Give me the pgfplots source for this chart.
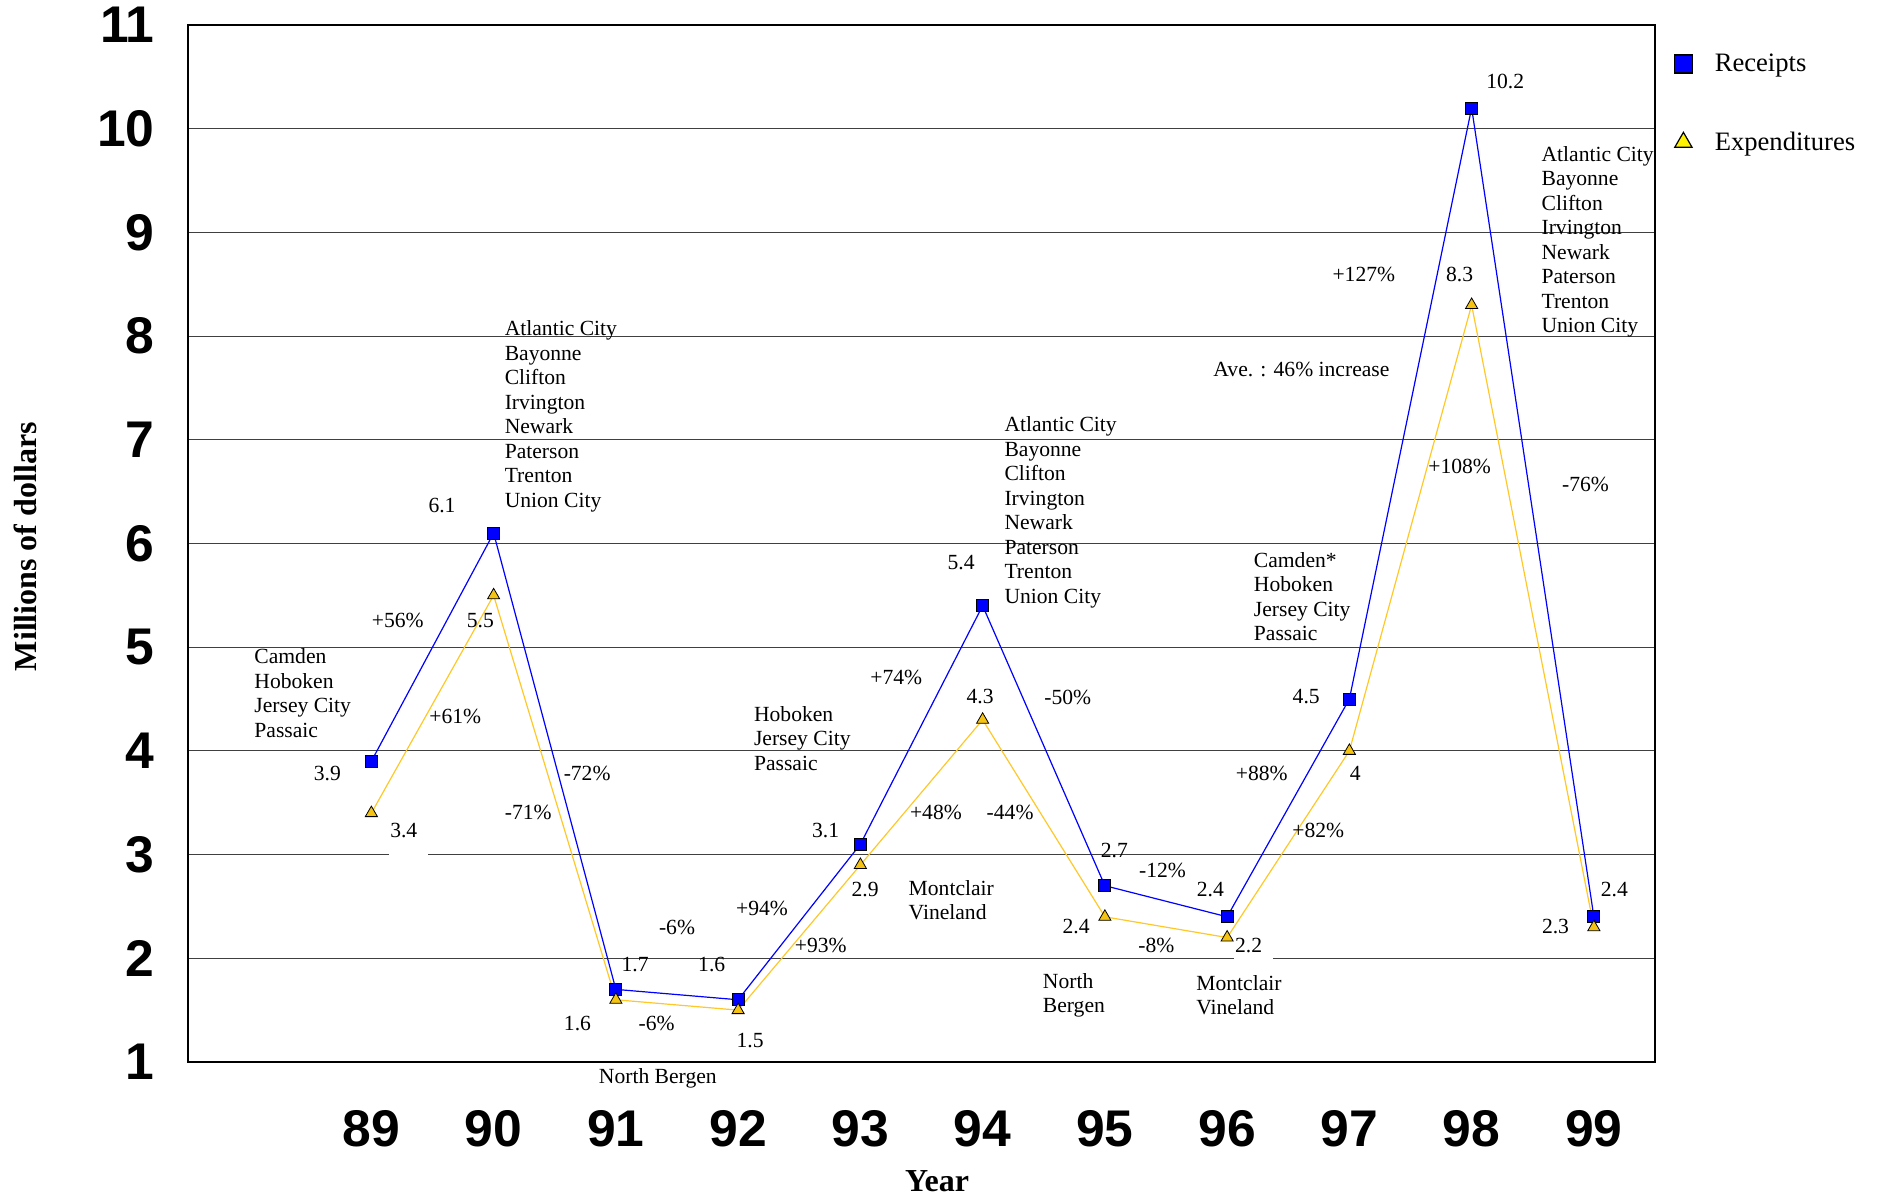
\documentclass[border=0pt]{standalone}
\usepackage{pgfplots}
\pgfplotsset{compat=1.18}
\usepackage{fontspec}
\setmainfont{Liberation Serif}
\newfontfamily\tickfont{Liberation Sans}
\definecolor{goldline}{RGB}{255,200,40}
\definecolor{goldfill}{RGB}{245,195,20}
\newcommand{\annfont}{\fontsize{10.8}{12.25}\selectfont}
\tikzset{ann/.style={font=\annfont, inner sep=0pt}}
\begin{document}
\begin{tikzpicture}
\begin{axis}[
  scale only axis, width=733.5pt, height=518.5pt,
  xmin=87.5, xmax=99.5, ymin=1, ymax=11,
  xtick={89,...,99}, ytick={1,...,11},
  ymajorgrids, grid style={black!75, line width=0.5pt},
  major tick length=0pt,
  axis line style={black, line width=0.9pt},
  clip=false,
  tick label style={font=\tickfont\bfseries\fontsize{25.8}{30}\selectfont},
  /pgf/number format/assume math mode=true,
  yticklabel style={anchor=east, inner sep=0pt, xshift=-16.5pt},
  xticklabel style={anchor=north, inner sep=0pt, yshift=-24pt},
  xlabel={Year}, ylabel={Millions of dollars},
  label style={font=\bfseries\fontsize{16}{19}\selectfont},
  xlabel style={at={(axis description cs:0.5106,-0.1145)}, anchor=center},
  ylabel style={at={(axis description cs:-0.1105,0.497)}, anchor=center},
  legend image code/.code={\draw[#1] plot coordinates {(0pt,0pt)}; \path (-12.8pt,0pt) (13.5pt,0pt);},
  legend style={at={(rel axis cs:1,1)}, anchor=north west, xshift=1pt, yshift=-12.2pt,
    draw=none, fill=none, inner sep=0pt, row sep=24.6pt,
    font=\fontsize{13.3}{15}\selectfont, cells={anchor=west}},
]
\coordinate (SW) at (rel axis cs:0,0);
\coordinate (NE) at (rel axis cs:1,1);
\node[fill=white, inner sep=0pt, minimum width=19.5pt, minimum height=2pt] at (axis cs:89.302,3) {};
\node[fill=white, inner sep=0pt, minimum width=19.5pt, minimum height=2pt] at (axis cs:96.213,2) {};

\addlegendimage{only marks, mark=square*, mark size=4.5pt, mark options={fill=blue, draw=black, line width=0.6pt}}
\addlegendimage{only marks, mark=triangle*, mark size=5pt, mark options={fill=yellow, draw=black, line width=0.6pt}}
\legend{Receipts, Expenditures}

\addplot[blue, line width=0.6pt, mark=square*, mark size=3pt, mark options={fill=blue, draw=black, line width=0.4pt}, forget plot]
  coordinates {(89,3.9)(90,6.1)(91,1.7)(92,1.6)(93,3.1)(94,5.4)(95,2.7)(96,2.4)(97,4.5)(98,10.2)(99,2.4)};
\addplot[goldline, line width=0.6pt, mark=triangle*, mark size=3.5pt, mark options={fill=goldfill, draw=black, line width=0.4pt}, forget plot]
  coordinates {(89,3.4)(90,5.5)(91,1.6)(92,1.5)(93,2.9)(94,4.3)(95,2.4)(96,2.2)(97,4)(98,8.3)(99,2.3)};

\node[ann, align=left, anchor=west] at (axis cs:88.04,4.555) {Camden\\Hoboken\\Jersey City\\Passaic};
\node[ann] at (axis cs:88.64,3.786) {3.9};
\node[ann] at (axis cs:89.265,3.231) {3.4};
\node[ann] at (axis cs:89.216,5.254) {+56\%};
\node[ann] at (axis cs:89.892,5.254) {5.5};
\node[ann] at (axis cs:89.578,6.364) {6.1};
\node[ann, align=left, anchor=west] at (axis cs:90.088,7.225) {Atlantic City\\Bayonne\\Clifton\\Irvington\\Newark\\Paterson\\Trenton\\Union City};
\node[ann] at (axis cs:89.686,4.329) {+61\%};
\node[ann] at (axis cs:90.765,3.786) {-72\%};
\node[ann] at (axis cs:90.284,3.405) {-71\%};
\node[ann] at (axis cs:91.157,1.936) {1.7};
\node[ann] at (axis cs:90.686,1.37) {1.6};
\node[ann] at (axis cs:91.5,2.295) {-6\%};
\node[ann] at (axis cs:91.784,1.936) {1.6};
\node[ann] at (axis cs:91.333,1.37) {-6\%};
\node[ann] at (axis cs:92.098,1.208) {1.5};
\node[ann] at (axis cs:91.343,0.838) {North Bergen};
\node[ann] at (axis cs:92.196,2.48) {+94\%};
\node[ann] at (axis cs:92.676,2.121) {+93\%};
\node[ann, align=left, anchor=west] at (axis cs:92.127,4.121) {Hoboken\\Jersey City\\Passaic};
\node[ann] at (axis cs:92.716,3.231) {3.1};
\node[ann] at (axis cs:93.039,2.665) {2.9};
\node[ann] at (axis cs:93.294,4.711) {+74\%};
\node[ann] at (axis cs:93.618,3.405) {+48\%};
\node[ann, align=left, anchor=west] at (axis cs:93.392,2.561) {Montclair\\Vineland};
\node[ann] at (axis cs:93.824,5.821) {5.4};
\node[ann, align=left, anchor=west] at (axis cs:94.176,6.301) {Atlantic City\\Bayonne\\Clifton\\Irvington\\Newark\\Paterson\\Trenton\\Union City};
\node[ann] at (axis cs:93.98,4.526) {4.3};
\node[ann] at (axis cs:94.696,4.514) {-50\%};
\node[ann] at (axis cs:94.225,3.405) {-44\%};
\node[ann] at (axis cs:95.078,3.035) {2.7};
\node[ann] at (axis cs:95.471,2.85) {-12\%};
\node[ann] at (axis cs:94.765,2.306) {2.4};
\node[ann] at (axis cs:95.422,2.121) {-8\%};
\node[ann, align=left, anchor=west] at (axis cs:94.49,1.642) {North\\Bergen};
\node[ann] at (axis cs:95.863,2.665) {2.4};
\node[ann] at (axis cs:96.176,2.121) {2.2};
\node[ann, align=left, anchor=west] at (axis cs:95.745,1.642) {Montclair\\Vineland};
\node[ann, align=left, anchor=west] at (axis cs:96.216,5.486) {Camden*\\Hoboken\\Jersey City\\Passaic};
\node[ann] at (axis cs:96.284,3.786) {+88\%};
\node[ann] at (axis cs:96.647,4.526) {4.5};
\node[ann] at (axis cs:97.049,3.786) {4};
\node[ann] at (axis cs:96.745,3.231) {+82\%};
\node[ann] at (axis cs:97.118,8.595) {+127\%};
\node[ann] at (axis cs:96.608,7.682) {Ave. : 46\% increase};
\node[ann] at (axis cs:97.902,8.595) {8.3};
\node[ann] at (axis cs:98.275,10.457) {10.2};
\node[ann] at (axis cs:97.902,6.746) {+108\%};
\node[ann] at (axis cs:98.931,6.572) {-76\%};
\node[ann, align=left, anchor=west] at (axis cs:98.569,8.908) {Atlantic City\\Bayonne\\Clifton\\Irvington\\Newark\\Paterson\\Trenton\\Union City};
\node[ann] at (axis cs:98.686,2.306) {2.3};
\node[ann] at (axis cs:99.167,2.665) {2.4};
\end{axis}
\pgfresetboundingbox
\path[use as bounding box] ([shift={(-94pt,-67.5pt)}]SW) rectangle ([shift={(112pt,12.5pt)}]NE);
\end{tikzpicture}
\end{document}
